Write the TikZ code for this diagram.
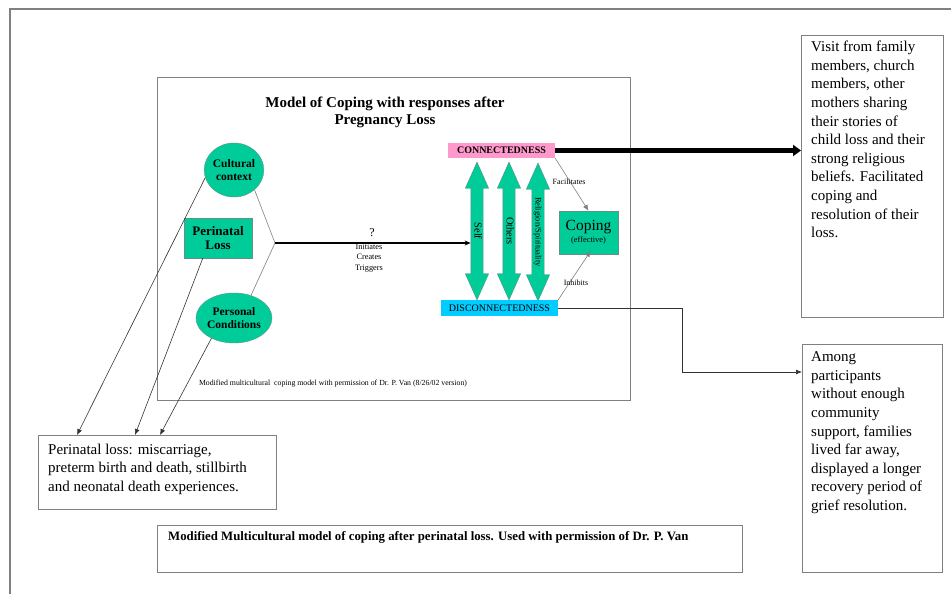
\documentclass[tikz,border=0pt]{standalone}
\usepackage{fontspec}
\setmainfont{Liberation Serif}
\usetikzlibrary{positioning,shapes.geometric,shapes.arrows,arrows.meta}
\definecolor{copegreen}{RGB}{0,204,153}
\definecolor{conpink}{RGB}{255,153,204}
\definecolor{discyan}{RGB}{0,204,255}
\definecolor{rulegray}{RGB}{128,128,128}
\tikzset{
    greenoval/.style={ellipse,draw=rulegray!80!copegreen,fill=copegreen,inner sep=0pt,align=center,
        font=\bfseries\fontsize{11.5}{13}\selectfont},
    greenbox/.style={rectangle,draw=rulegray!80!copegreen,fill=copegreen,inner sep=0pt,align=center},
    bothways/.style={double arrow,draw=rulegray!80!copegreen,fill=copegreen,rotate=-90,
        minimum height=138pt,inner xsep=0pt,inner ysep=1.5pt,text height=7pt,text depth=2pt,
        double arrow head extend=5.5pt,double arrow tip angle=48},
    outbox/.style={draw=rulegray,line width=0.9pt,inner sep=0pt,anchor=north west},
    boxtext/.style={inner sep=0pt,align=left,font=\fontsize{15}{18.6}\selectfont},
    feed/.style={draw=rulegray,line width=0.6pt},
    pointer/.style={-{Latex[length=6pt,width=5pt]}}
}
\begin{document}
\begin{tikzpicture}[x=1pt,y=-1pt]
    \useasboundingbox (0,0) rectangle (951,594);
    \draw[rulegray,line width=2pt] (10,594) -- (10,9) -- (951,9);
    \node[outbox,minimum width=473pt,minimum height=323pt] (model) at (157,77) {};
    \node[font=\bfseries\fontsize{15}{17}\selectfont,align=center] (title) at (385,112) {Model of Coping with responses after\\Pregnancy Loss};

    \node[greenoval,minimum width=58pt,minimum height=54pt] (cult) at (234,170) {Cultural\\context};
    \node[greenbox,minimum width=68pt,minimum height=40pt,font=\bfseries\fontsize{13}{14}\selectfont] (perloss) at (218,238) {Perinatal\\Loss};
    \node[greenoval,minimum width=76pt,minimum height=50pt] (pers) at (234,318) {Personal\\Conditions};
    \coordinate (join) at (275,243);
    \draw[feed] (cult.-44) -- (join) -- (pers.53);

    \node[bothways,font=\fontsize{10.5}{10.5}\selectfont] (self) at (477,231) {Self};
    \node[bothways,font=\fontsize{10.5}{10.5}\selectfont] (others) at (509,231) {Others};
    \node[bothways,font=\fontsize{8.5}{8.5}\selectfont] (relig) at (538,232) {Religion/Spirituality};
    \draw[line width=1.3pt,-{Stealth[length=6pt,width=5pt]}] (join) -- (join -| self.south);
    \node[font=\fontsize{12}{12}\selectfont] (query) at (372,233) {?};
    \node[font=\fontsize{8.3}{10.5}\selectfont,align=center] (verbs) at (369,258) {Initiates\\Creates\\Triggers};

    \node[fill=conpink,inner sep=0pt,minimum width=107pt,minimum height=15pt,font=\bfseries\fontsize{10}{10}\selectfont] (conn) at (501.5,150.5) {CONNECTEDNESS};
    \node[fill=discyan,inner sep=0pt,minimum width=117pt,minimum height=16pt,font=\fontsize{10}{10}\selectfont] (disc) at (499.5,308) {DISCONNECTEDNESS};
    \node[greenbox,minimum width=59pt,minimum height=43pt] (coping) at (588.5,232.5) {\fontsize{15.5}{16}\selectfont Coping\\\fontsize{8.4}{9}\selectfont (effective)};
    \draw[feed,pointer] (conn.south east) -- (coping.north);
    \node[font=\fontsize{8}{8}\selectfont,inner sep=0pt] (facil) at (569,182) {Facilitates};
    \draw[feed,pointer,shorten >=-4pt] (disc.north east) -- (coping.south);
    \node[font=\fontsize{8}{8}\selectfont,inner sep=0pt] (inhib) at (576,283) {Inhibits};

    \node[outbox,minimum width=142pt,minimum height=282pt] (visit) at (801,35) {};
    \node[boxtext,below right=6pt and 10pt of visit.north west] (visittxt) {Visit from family\\members, church\\members, other\\mothers sharing\\their stories of\\child loss and their\\strong religious\\beliefs. Facilitated\\coping and\\resolution of their\\loss.};
    \draw[line width=4.5pt,-{Triangle[length=8pt,width=11pt]}] (conn.east) -- (conn.east -| visit.west);

    \node[outbox,minimum width=140pt,minimum height=228pt] (among) at (802,344) {};
    \node[boxtext,below right=7.5pt and 9pt of among.north west] (amongtxt) {Among\\participants\\without enough\\community\\support, families\\lived far away,\\displayed a longer\\recovery period of\\grief resolution.};
    \coordinate (turn) at (682,372);
    \draw[black!80,line width=0.7pt,pointer] (disc.east) -| (turn) -- (turn -| among.west);

    \node[outbox,minimum width=238pt,minimum height=74pt] (lossbox) at (38,435) {};
    \node[boxtext,below right=8.5pt and 10pt of lossbox.north west] (losstxt) {Perinatal loss: miscarriage,\\preterm birth and death, stillbirth\\and neonatal death experiences.};
    \draw[black!80,line width=0.6pt,pointer] (cult.195) -- ([xshift=39pt]lossbox.north west);
    \draw[black!80,line width=0.6pt,pointer] (perloss.-127) -- ([xshift=97pt]lossbox.north west);
    \draw[black!80,line width=0.6pt,pointer] (pers.-138) -- ([xshift=122pt]lossbox.north west);

    \node[font=\fontsize{7.8}{8}\selectfont] (credit) at (333,384) {Modified multicultural\ \ coping model with permission of Dr. P. Van (8/26/02 version)};

    \node[outbox,minimum width=585pt,minimum height=47pt] (caption) at (157,525) {};
    \node[inner sep=0pt,font=\bfseries\fontsize{12.8}{14}\selectfont,below right=6pt and 11pt of caption.north west] (captxt) {Modified Multicultural model of coping after perinatal loss. Used with permission of Dr. P. Van};
\end{tikzpicture}
\end{document}
